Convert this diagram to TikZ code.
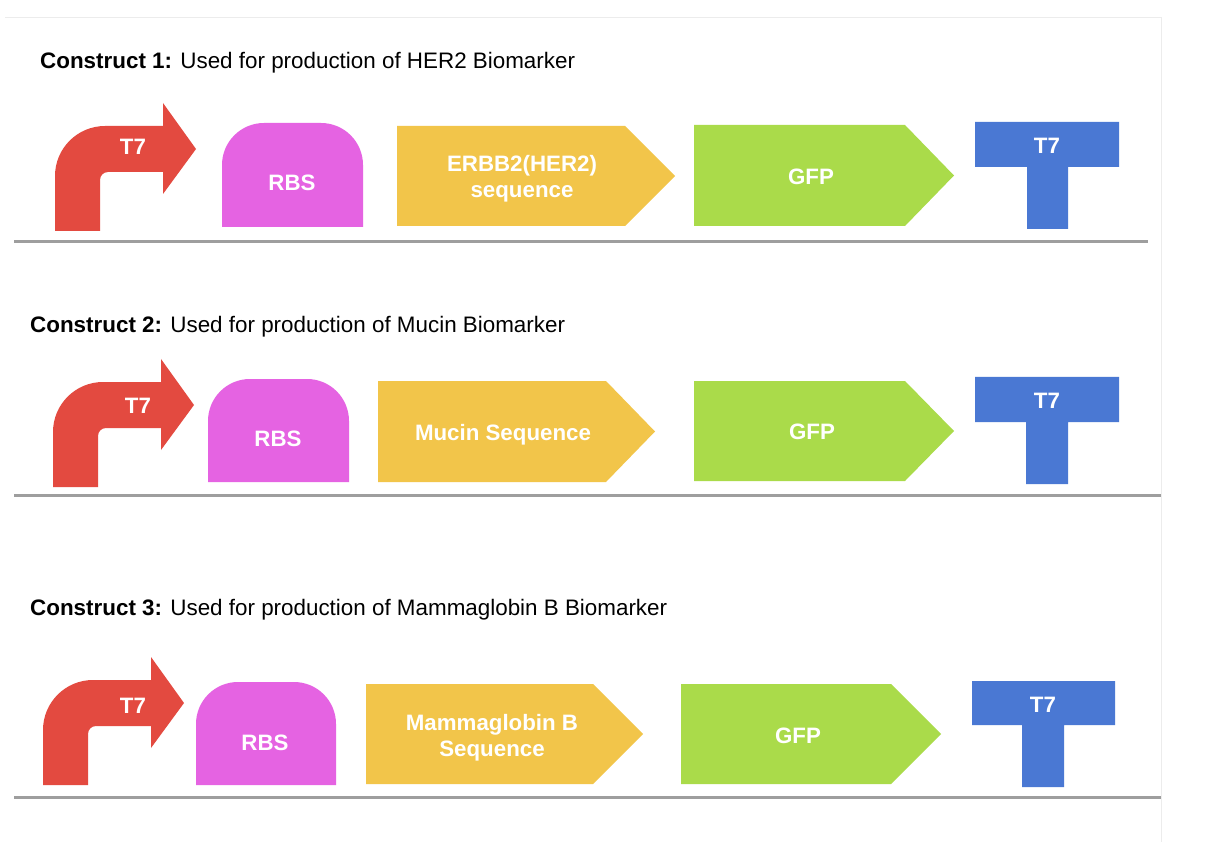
\documentclass[tikz,border=0pt]{standalone}
\usepackage{fontspec}
\setmainfont{Liberation Sans}
\definecolor{promred}{RGB}{227,74,64}
\definecolor{rbspink}{RGB}{229,99,226}
\definecolor{cdsyellow}{RGB}{242,197,74}
\definecolor{gfpgreen}{RGB}{170,219,74}
\definecolor{termblue}{RGB}{74,120,211}
\definecolor{backbone}{RGB}{158,158,158}
\definecolor{framegray}{RGB}{236,236,236}

\tikzset{
  partlabel/.style={text=white, font=\fontsize{22.3}{25.5}\selectfont\bfseries, anchor=base, inner sep=0pt, align=center},
  titlelabel/.style={font=\fontsize{22.4}{26}\selectfont, anchor=base west, inner sep=0pt},
  dnaline/.style={draw=backbone, line width=3pt},
}

% promoter: bent arrow, origin at the lower left corner of the stem
\newcommand\promoterpart[2]{%
  \fill[promred] (#1,#2) -- ++(0,-55) arc[start angle=180,end angle=270,radius=50]
    -- ++(58,0) -- ++(0,-23) -- ++(33,46) -- ++(-33,45) -- ++(0,-22)
    -- ++(-55,0) arc[start angle=270,end angle=180,radius=8] -- ++(0,51) -- cycle;}
% ribosome binding site: box with rounded top corners (x0, x1, top, bottom)
\newcommand\rbspart[4]{%
  \fill[rbspink] (#1,#4) -- (#1,#3+42) arc[start angle=180,end angle=270,radius=42]
    -- (#2-42,#3) arc[start angle=270,end angle=360,radius=42] -- (#2,#4) -- cycle;}
% coding sequence: pentagon arrow (colour, x0, slope start, tip, top, bottom)
\newcommand\cdspart[6]{%
  \fill[#1] (#2,#5) -- (#3,#5) -- (#4,{(#5+#6)/2}) -- (#3,#6) -- (#2,#6) -- cycle;}
% terminator: T shape (bar x0, bar x1, stem x0, stem x1, top, bar bottom, stem bottom)
\newcommand\termpart[7]{%
  \fill[termblue] (#1,#5) -- (#2,#5) -- (#2,#6) -- (#4,#6) -- (#4,#7) -- (#3,#7)
    -- (#3,#6) -- (#1,#6) -- cycle;}

\begin{document}
\begin{tikzpicture}[x=1pt,y=-1pt]
\useasboundingbox (0,0) rectangle (1232,842);
\fill[white] (0,0) rectangle (1232,842);
\draw[framegray, line width=1pt] (5,18) -- (1161,18) -- (1161,842);

% ---------------- construct 1 ----------------
\node[titlelabel] (title1) at (40,68.5) {\textbf{Construct 1:} Used for production of HER2 Biomarker};
\promoterpart{55}{231}
\rbspart{222}{363}{123}{227}
\cdspart{cdsyellow}{397}{625}{675}{126}{226}
\cdspart{gfpgreen}{694}{905}{954}{125}{226}
\termpart{975}{1119}{1027}{1068}{122}{167}{229}
\node[partlabel] (prom1) at (133,154.7) {T7};
\node[partlabel] (rbs1) at (292,190.7) {RBS};
\node[partlabel] (cds1) at (522,197.5) {ERBB2(HER2)\\sequence};
\node[partlabel] (gfp1) at (811,184.7) {GFP};
\node[partlabel] (term1) at (1047,153.7) {T7};
\draw[dnaline] (14,242) coordinate (b1a) -- (1148,242) coordinate (b1b);

% ---------------- construct 2 ----------------
\node[titlelabel] (title2) at (30,332.5) {\textbf{Construct 2:} Used for production of Mucin Biomarker};
\promoterpart{53}{487}
\rbspart{208}{349}{379}{482}
\cdspart{cdsyellow}{378}{606}{655}{381}{482}
\cdspart{gfpgreen}{694}{905}{954}{381}{481}
\termpart{975}{1119}{1026}{1068}{377}{422}{484}
\node[partlabel] (prom2) at (138,413.7) {T7};
\node[partlabel] (rbs2) at (278,446.7) {RBS};
\node[partlabel] (cds2) at (503,440.7) {Mucin Sequence};
\node[partlabel] (gfp2) at (812,439.7) {GFP};
\node[partlabel] (term2) at (1047,408.7) {T7};
\draw[dnaline] (14,495) coordinate (b2a) -- (1161,495) coordinate (b2b);

% ---------------- construct 3 ----------------
\node[titlelabel] (title3) at (30,615.5) {\textbf{Construct 3:} Used for production of Mammaglobin B Biomarker};
\promoterpart{43}{785}
\rbspart{196}{336}{682}{785}
\cdspart{cdsyellow}{366}{593}{643}{684}{784}
\cdspart{gfpgreen}{681}{891}{941}{684}{784}
\termpart{972}{1115}{1022}{1064}{681}{725}{787}
\node[partlabel] (prom3) at (133,713.7) {T7};
\node[partlabel] (rbs3) at (265,750.7) {RBS};
\node[partlabel] (cds3) at (492,756) {Mammaglobin B\\Sequence};
\node[partlabel] (gfp3) at (798,743.7) {GFP};
\node[partlabel] (term3) at (1043,712.7) {T7};
\draw[dnaline] (14,797) coordinate (b3a) -- (1161,797) coordinate (b3b);
\end{tikzpicture}
\end{document}
